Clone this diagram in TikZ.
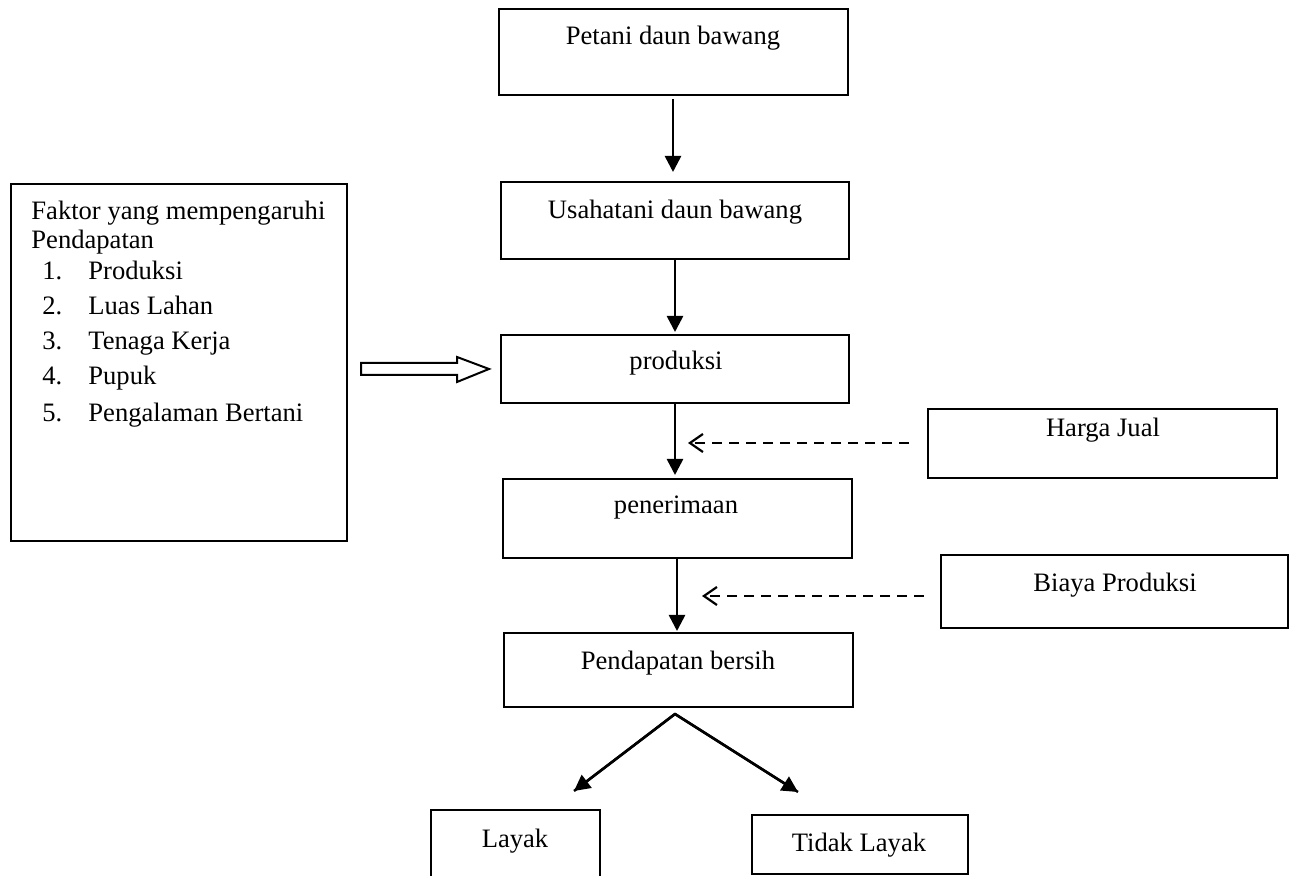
\documentclass[tikz,border=0pt]{standalone}
\usepackage{fontspec}
\setmainfont{Liberation Serif}
\usetikzlibrary{arrows.meta,fit,calc}
\tikzset{
  box/.style={draw, line width=1pt, inner sep=0pt},
  lbl/.style={font=\fontsize{13.3}{16}\selectfont, inner sep=0pt, text height=9.3pt, text depth=3.3pt},
  arr/.style={line width=1.3pt, -{Triangle[width=8pt,length=8pt]}},
  dsh/.style={line width=1.2pt, dash pattern=on 5pt off 3.5pt, -{Straight Barb[width=9pt,length=6.5pt,line width=1.1pt]}},
}
\begin{document}
\begin{tikzpicture}[x=0.5pt,y=-0.5pt]
\useasboundingbox (0,0) rectangle (1296,876);
\clip (0,0) rectangle (1296,876);
% boxes
\node[box, fit={(499,9) (848,95)}] (pet) {};
\node[box, fit={(501,182) (849,259)}] (usa) {};
\node[box, fit={(501,335) (849,403)}] (pro) {};
\node[box, fit={(503,479) (852,558)}] (pen) {};
\node[box, fit={(504,633) (853,707)}] (pnd) {};
\node[box, fit={(11,184) (347,541)}] (fak) {};
\node[box, fit={(928,409) (1277,478)}] (har) {};
\node[box, fit={(941,555) (1288,628)}] (bia) {};
\node[box, fit={(431,810) (600,900)}] (lay) {};
\node[box, fit={(752,815) (968,874)}] (tdk) {};
% labels
\node[lbl] (tpet) at (673,39) {Petani daun bawang};
\node[lbl] (tusa) at (675,213) {Usahatani daun bawang};
\node[lbl] (tpro) at (676,364) {produksi};
\node[lbl] (tpen) at (676,508) {penerimaan};
\node[lbl] (tpnd) at (678,663) {Pendapatan bersih};
\node[lbl] (thar) at (1103,431) {Harga Jual};
\node[lbl] (tbia) at (1115,586) {Biaya Produksi};
\node[lbl] (tlay) at (515,841) {Layak};
\node[lbl] (ttdk) at (859,845) {Tidak Layak};
% faktor list
\node[lbl, anchor=west] (f0) at (31,214) {Faktor yang mempengaruhi};
\node[lbl, anchor=west] (f1) at (31,243) {Pendapatan};
\node[lbl, anchor=west] (n1) at (42,274) {1.};
\node[lbl, anchor=west] (i1) at (88,274) {Produksi};
\node[lbl, anchor=west] (n2) at (42,309) {2.};
\node[lbl, anchor=west] (i2) at (88,309) {Luas Lahan};
\node[lbl, anchor=west] (n3) at (42,344) {3.};
\node[lbl, anchor=west] (i3) at (88,344) {Tenaga Kerja};
\node[lbl, anchor=west] (n4) at (42,379) {4.};
\node[lbl, anchor=west] (i4) at (88,379) {Pupuk};
\node[lbl, anchor=west] (n5) at (42,416) {5.};
\node[lbl, anchor=west] (i5) at (88,416) {Pengalaman Bertani};
% helper coordinates
\coordinate (x1) at (673,0);
\coordinate (x2) at (675,0);
\coordinate (x3) at (677,0);
\coordinate (yh) at (0,443);
\coordinate (yb) at (0,596);
\coordinate (hend) at (x2 |- yh);
\coordinate (bend) at (x3 |- yb);
\coordinate (apex) at (675,714);
\coordinate (tipL) at (574,791);
\coordinate (tipR) at (798,792);
% main arrows
\draw[arr, shorten <=1.5pt, shorten >=4.5pt] (pet.south -| x1) -- (usa.north -| x1);
\draw[arr, shorten >=1pt] (usa.south -| x2) -- (pro.north -| x2);
\draw[arr, shorten >=1.5pt] (pro.south -| x2) -- (pen.north -| x2);
\draw[arr, shorten >=0.5pt] (pen.south -| x3) -- (pnd.north -| x3);
% dashed arrows
\draw[dsh, shorten <=9pt, shorten >=6.5pt] (har.west |- yh) -- (hend);
\draw[dsh, shorten <=8pt, shorten >=12.5pt] (bia.west |- yb) -- (bend);
% diverging arrows
\draw[line width=1.2pt] (tipL) -- (apex) -- (tipR);
\draw[arr] (apex) -- (tipL);
\draw[arr] (apex) -- (tipR);
% hollow block arrow
\draw[line width=1pt, fill=white, line join=miter] (361,363) -- (457,363) -- (457,357) -- (489,369) -- (457,382) -- (457,375) -- (361,375) -- cycle;
\end{tikzpicture}
\end{document}
